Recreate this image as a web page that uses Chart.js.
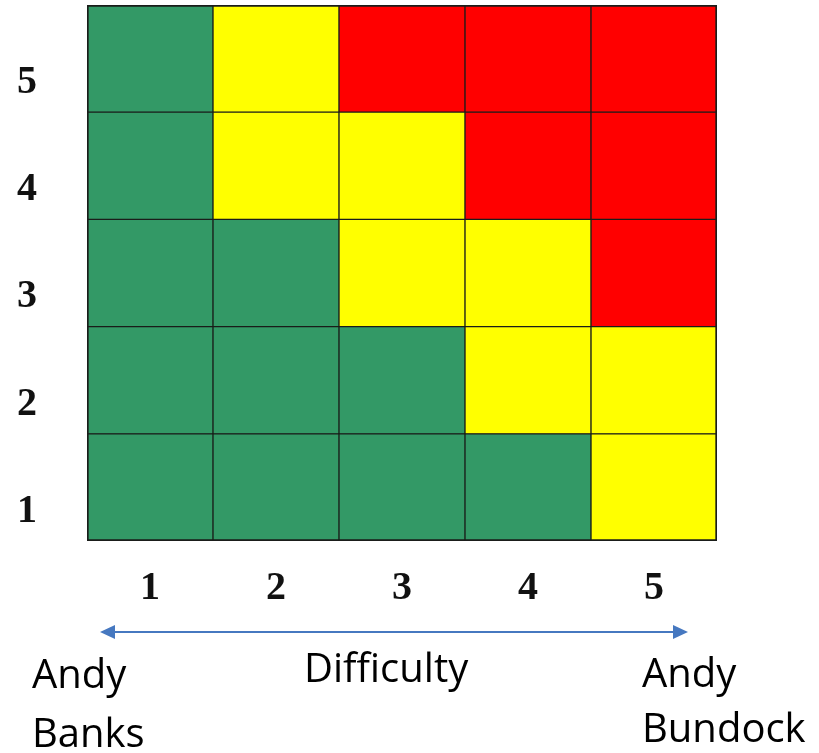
<!DOCTYPE html>
<html><head><meta charset="utf-8">
<script src="https://cdn.jsdelivr.net/npm/chart.js@4.4.1/dist/chart.umd.min.js"></script>
<style>html,body{margin:0;padding:0;background:#fff}#wrap{position:relative;width:819px;height:753px}</style>
</head><body><div id="wrap"><canvas id="c" width="819" height="753"></canvas></div>
<script>
// Columns: difficulty 1..5 ; rows: level 1..5
const difficultyLabels = ['1', '2', '3', '4', '5'];
const levelLabels = ['1', '2', '3', '4', '5'];
const levelValues = [1, 2, 3, 4, 5];
// Rating per cell (0 = green, 1 = yellow, 2 = red), one array per row level
const level1 = [0, 0, 0, 0, 1];
const level2 = [0, 0, 0, 1, 1];
const level3 = [0, 0, 1, 1, 2];
const level4 = [0, 1, 1, 2, 2];
const level5 = [0, 1, 2, 2, 2];
const ratingColors = ['#339966', '#FFFF00', '#FF0000'];
const leftCaption = ['Andy', 'Banks'];
const centerCaption = 'Difficulty';
const rightCaption = ['Andy', 'Bundock'];

const rows = [level1, level2, level3, level4, level5];
const datasets = rows.map((ratings, r) => ({
  label: 'Level ' + levelLabels[r],
  data: difficultyLabels.map(d => [levelValues[r] - 0.5, levelValues[r] + 0.5]),
  backgroundColor: ratings.map(v => ratingColors[v]),
  borderColor: '#1a1d1a',
  borderWidth: ctx => ({
    left: ctx.dataIndex === 0 ? 2 : 1,
    right: ctx.dataIndex === difficultyLabels.length - 1 ? 2 : 1,
    top: ctx.datasetIndex === rows.length - 1 ? 2 : 1,
    bottom: ctx.datasetIndex === 0 ? 2 : 1
  }),
  borderSkipped: false,
  barPercentage: 1,
  categoryPercentage: 1,
  grouped: false
}));

const captionPlugin = {
  id: 'captions',
  afterDraw(chart) {
    const ctx = chart.ctx;
    const ca = chart.chartArea;
    ctx.save();
    // double-headed arrow
    const y = 632, x1 = ca.left + 13, x2 = ca.right - 29;
    ctx.strokeStyle = '#4678c0';
    ctx.fillStyle = '#4678c0';
    ctx.lineWidth = 2;
    ctx.beginPath();
    ctx.moveTo(x1 + 10, y); ctx.lineTo(x2 - 10, y); ctx.stroke();
    ctx.beginPath();
    ctx.moveTo(x1, y); ctx.lineTo(x1 + 15, y - 7); ctx.lineTo(x1 + 15, y + 7); ctx.closePath(); ctx.fill();
    ctx.beginPath();
    ctx.moveTo(x2, y); ctx.lineTo(x2 - 15, y - 7); ctx.lineTo(x2 - 15, y + 7); ctx.closePath(); ctx.fill();
    // captions
    ctx.fillStyle = '#000';
    ctx.font = '40px "Open Sans"';
    ctx.textAlign = 'left';
    ctx.textBaseline = 'alphabetic';
    ctx.fillText(leftCaption[0], 32, 688);
    ctx.fillText(leftCaption[1], 32, 747);
    ctx.fillText(centerCaption, 304, 682);
    ctx.fillText(rightCaption[0], 642, 687);
    ctx.fillText(rightCaption[1], 642, 742);
    ctx.restore();
  }
};

new Chart(document.getElementById('c'), {
  type: 'bar',
  data: { labels: difficultyLabels, datasets },
  options: {
    responsive: false,
    animation: false,
    devicePixelRatio: 1,
    layout: { padding: { top: 5, right: 102, bottom: 142, left: 0 } },
    plugins: { legend: { display: false }, tooltip: { enabled: false } },
    scales: {
      x: {
        type: 'category',
        offset: true,
        grid: { display: false, drawTicks: false, tickLength: 0 },
        border: { display: false },
        ticks: { color: '#111', padding: 24, maxRotation: 0, font: { family: '"Liberation Serif"', size: 40, weight: 'bold' } },
        afterFit: s => { s.height = 70; s.paddingLeft = 0; s.paddingRight = 0; }
      },
      y: {
        type: 'linear',
        min: 0.5,
        max: 5.5,
        grid: { display: false, drawTicks: false, tickLength: 0 },
        border: { display: false },
        afterBuildTicks: s => { s.ticks = levelValues.map(v => ({ value: v })); },
        ticks: {
          color: '#111',
          padding: 50,
          labelOffset: 24,
          font: { family: '"Liberation Serif"', size: 40, weight: 'bold' },
          callback: v => levelLabels[levelValues.indexOf(v)]
        },
        afterFit: s => { s.width = 87; s.paddingTop = 0; s.paddingBottom = 0; }
      }
    }
  },
  plugins: [captionPlugin]
});
</script>
</body></html>
